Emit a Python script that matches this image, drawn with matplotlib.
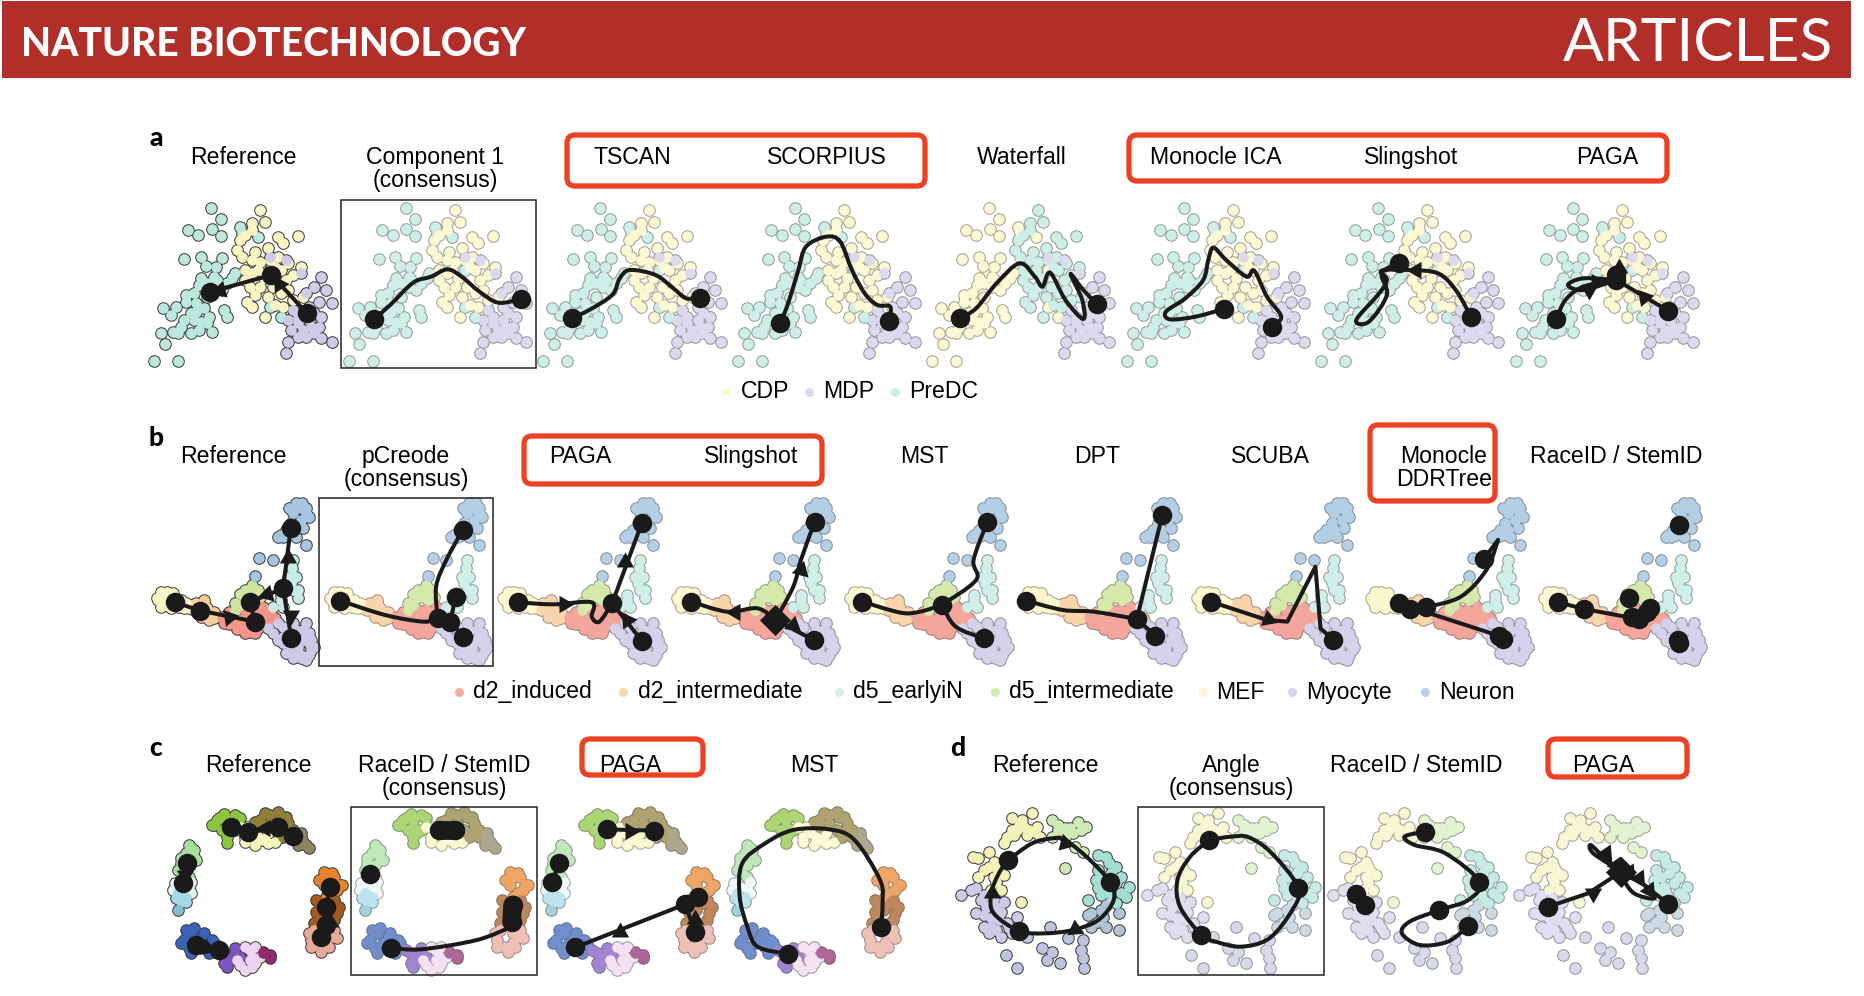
import numpy as np
import matplotlib
matplotlib.use('Agg')
import matplotlib.pyplot as plt
from matplotlib.path import Path
from matplotlib.patches import PathPatch, Rectangle, FancyBboxPatch

plt.rcParams['font.family'] = ['Liberation Sans', 'DejaVu Sans']

XS = 1.96
YS = 3.0
CROP_A = (130, 120)
CROP_B = (920, 120)
CROP_C = (130, 420)
CROP_D = (920, 420)
CROP_E = (130, 730)
CROP_F = (930, 730)

# --- dataset a cells (reference panel, crop A)
A_PREDC = [(48,722),(95,722),(68,672),(159,264),(178,297),(113,330),(134,344),(160,326),(178,347),(216,322),
           (106,417),(139,410),(148,438),(180,415),(168,440),(165,470),(140,475),(135,495),(110,525),(125,520),
           (110,545),(130,550),(65,565),(90,562),(80,585),(130,575),(125,600),(140,605),(160,635),(150,610),
           (185,570),(190,590),(100,620),(85,635),(60,640),(205,460),(190,490),(165,500),(150,530),(170,480),
           (120,640),(250,350),(220,340),(275,450),(295,590),(275,560),(120,580),(145,565),(105,600),(180,510),
           (150,490),(135,630),(95,640),(200,475),(155,590)]
A_CDP = [(255,270),(240,310),(265,305),(240,330),(225,345),(215,360),(210,390),(290,350),(300,370),(330,347),
         (270,385),(245,395),(220,410),(240,420),(255,425),(290,410),(310,430),(335,440),(225,450),(240,460),
         (295,450),(320,465),(235,500),(255,500),(245,525),(230,545),(240,560),(280,500),(295,520),(270,530),
         (285,555),(265,590),(300,560),(320,540),(340,530),(250,450),(262,475),(285,440),(305,480),(275,420),
         (225,480),(310,510)]
A_MDP = [(275,410),(305,420),(335,460),(375,470),(360,500),(345,520),(385,510),(395,550),(370,545),(350,560),
         (320,570),(330,590),(310,600),(375,590),(350,600),(315,630),(340,630),(370,620),(345,650),(375,655),
         (395,665),(310,665),(305,700),(360,640),(330,610),(355,620),(330,650),(360,580)]

# --- dataset b cells (reference panel, crop C)
B_MEF = [(55,540),(70,525),(85,530),(70,555),(95,560),(110,550),(60,545),(80,545),(115,565),(52,535),(60,515),
         (72,515),(85,520),(100,540),(60,560),(80,565),(105,565),(120,555)]
B_D2I = [(130,560),(145,550),(150,585),(140,575),(125,570),(165,595),(130,550),(145,540),(150,565),(165,575),
         (140,590),(155,600)]
B_D2 = [(190,590),(205,600),(185,610),(215,620),(235,635),(240,610),(225,590),(255,575),(265,590),(270,610),
        (250,625),(205,580),(240,570),(180,590),(195,575),(195,612),(215,600),(230,615),(210,628),(225,640),
        (245,640),(255,610),(240,590),(260,560),(275,575),(285,595),(270,625),(225,570),(250,595)]
B_D5I = [(215,555),(205,570),(225,510),(240,495),(250,510),(255,530),(235,530),(225,530),(205,548),(215,522),
         (235,512),(245,540)]
B_NEU = [(325,260),(335,265),(345,280),(320,280),(335,300),(315,310),(320,330),(300,350),(290,350),(310,345),
         (325,350),(345,375),(253,415),(280,420),(245,467),(312,265),(345,265),(325,250),(338,250),(350,290),
         (305,330),(295,345),(340,325)]
B_D5E = [(320,420),(318,445),(310,470),(325,470),(315,490),(320,510),(330,510),(330,535),(295,540),(280,560),
         (300,560),(295,525)]
B_MYO = [(270,625),(290,610),(300,620),(320,610),(340,630),(350,640),(300,650),(320,650),(340,660),(350,670),
         (330,680),(355,690),(300,670),(315,690),(335,705),(345,720),(335,715),(360,680),(345,650),(280,640),
         (290,660),(310,670),(330,700),(355,660),(345,610),(325,630),(305,700),(320,715),(350,705)]

# --- dataset c cells (reference panel, crop E)
C_GREEN = [(175,265),(190,270),(165,285),(190,290),(195,310),(190,340),(170,270),(185,252),(205,255),(160,285),
           (180,300),(205,300),(215,265),(190,320)]
C_PALE = [(215,290),(225,320),(245,345),(270,310),(250,320),(230,290),(240,310),(225,335),(260,330),(270,340),(285,335)]
C_OLIVE = [(255,270),(275,255),(295,260),(310,280),(320,300),(290,300),(300,320),(245,275),(265,250),(290,245),
           (305,260),(255,290),(275,280),(310,300),(320,320)]
C_TAUPE = [(335,320),(345,345),(330,345),(340,335),(350,355),(335,310)]
C_LGREEN = [(120,355),(110,370),(125,380),(100,400),(115,405),(105,430),(115,345),(125,360),(100,385),(130,390),
            (95,420),(115,440)]
C_WHITE = [(100,470),(115,475),(88,460),(120,455),(85,480),(120,490)]
C_SKY = [(95,490),(110,500),(100,515),(90,505),(110,515)]
C_TEAL = [(95,540)]
C_ORANGE = [(385,440),(400,440),(410,465),(380,465),(395,490),(380,425),(395,430),(415,465),(405,480),(370,450),(385,500)]
C_BROWN = [(370,515),(395,520),(380,540),(405,550),(370,560),(395,580),(365,510),(400,510),(375,530),(410,530),
           (365,545),(400,570),(360,580),(385,590)]
C_PINK = [(360,600),(385,610),(355,630),(370,650),(385,640),(400,620),(350,610),(355,650),(375,665),(400,600),
          (405,625),(390,650)]
C_BLUE = [(120,610),(105,630),(140,625),(115,655),(150,650),(165,640),(110,600),(125,595),(100,640),(130,640),
          (145,610),(160,630),(120,670),(155,670)]
C_PURPLE = [(185,670),(205,670),(185,700),(215,680),(175,660),(195,690),(205,655),(190,710)]
C_LPINK = [(235,660),(240,680),(215,705),(235,690),(225,720),(245,700),(225,650),(245,650),(210,690),(240,712),(255,680)]
C_MAGENTA = [(260,670),(275,675),(260,665),(275,685)]

# --- dataset d cells (reference panel, crop F)
D_YELLOW = [(160,265),(200,250),(180,270),(185,290),(165,315),(150,320),(145,340),(170,300),(195,300),(210,290),
            (215,320),(115,365),(125,395),(95,385),(85,380),(115,410),(130,410),(95,440),(145,435),(125,440),(178,517),
            (105,420),(135,425),(175,285),(190,315),(205,305),(160,300),(140,480),(120,480),(130,455)]
D_GREEN = [(240,270),(265,295),(290,275),(305,290),(280,310),(250,300),(240,320),(265,320),(285,350),(300,365),(265,415),
           (250,285),(275,295),(295,300),(265,305)]
D_TEAL = [(330,375),(350,400),(330,420),(365,410),(325,450),(345,470),(375,440),(390,470),(385,500),(355,510),
          (335,495),(310,510),(345,380),(355,430),(340,440),(365,460),(375,490),(330,475),(350,490),(365,520)]
D_SLATE = [(315,550),(335,540),(340,560),(370,550),(345,590),(370,600),(310,555),(315,590),(345,525),(330,575)]
D_BLUE = [(270,625),(300,630),(295,660),(220,655),(240,665),(230,690),(255,700),(300,685),(148,675),(170,713),
          (302,715),(190,620),(235,590)]
D_LAV = [(80,480),(60,495),(90,475),(105,495),(125,505),(145,515),(110,530),(130,530),(90,550),(120,565),(105,590),
         (140,620),(160,610),(130,600),(150,580),(170,560),(115,610),(100,510),(120,520),(140,545),(105,555),(135,570),
         (155,595),(120,590)]

# --- trajectories, crop units: curves, straight lines, nodes, arrows (x, y, heading deg ccw from up)
A1 = dict(crop=CROP_A, lines=[[(347,580),(277,465),(157,516)]], nodes=[(347,580),(277,465),(157,516)],
          arrows=[(292,492,32),(176,510,105)])
A2 = dict(crop=CROP_A, curves=[[(478,598),(510,555),(555,488),(590,470),(622,448),(650,470),(685,515),(722,548),(767,537)]],
          nodes=[(478,598),(767,537)])
A3 = dict(crop=CROP_A, curves=[[(866,594),(900,570),(945,525),(960,475),(980,450),(1030,465),(1065,505),(1090,535),(1117,533)]],
          nodes=[(866,594),(1117,533)])
A4 = dict(crop=CROP_A, curves=[[(1274,610),(1290,550),(1310,450),(1325,380),(1365,350),(1392,365),(1415,450),(1440,520),(1465,555),(1490,560),(1488,603)]],
          nodes=[(1274,610),(1488,603)])
A5 = dict(crop=CROP_B, curves=[[(78,595),(110,565),(150,490),(195,430),(225,470),(240,500),(255,458),(285,540),(320,597),(318,540),(295,462),(320,510),(347,552)]],
          nodes=[(78,595),(347,552)])
A6 = dict(crop=CROP_B, curves=[[(595,567),(540,590),(490,598),(482,575),(520,535),(555,480),(565,420),(575,383),(600,420),(640,470),(655,452),(680,530),(708,590),(690,620)]],
          nodes=[(595,567),(690,620)])
A7 = dict(crop=CROP_B, curves=[[(1080,590),(1050,510),(1015,460),(960,450),(905,452),(915,480),(900,520),(855,600),(880,605),(915,525),(905,460),(938,430)]],
          nodes=[(1080,590),(938,430)], arrows=[(972,450,90)])
A8 = dict(crop=CROP_B, curves=[[(1247,598),(1265,540),(1300,500),(1365,480)],[(1365,480),(1300,475),(1270,495),(1300,510),(1365,480)]],
          lines=[[(1365,480),(1467,573)]], nodes=[(1247,598),(1467,573),(1365,480),(1365,465)],
          arrows=[(1312,510,300),(1420,530,40),(1370,445,0),(1325,485,270)])

B1 = dict(crop=CROP_C, lines=[[(88,547),(138,572),(245,605)],[(245,605),(235,547),(300,505)],[(300,505),(315,325)],[(300,505),(316,653)]],
          nodes=[(88,547),(138,572),(245,605),(235,547),(300,505),(315,325),(316,653)],
          arrows=[(310,415,0),(315,585,180),(195,590,280),(268,522,105)])
B2 = dict(crop=CROP_C, curves=[[(412,542),(500,585),(575,605),(603,595)],[(603,595),(600,500),(620,420),(652,330)]],
          lines=[[(638,530),(628,605),(653,650)],[(603,595),(628,605)]],
          nodes=[(412,542),(603,595),(628,605),(653,650),(638,530),(652,330)])
B3 = dict(crop=CROP_C, curves=[[(760,547),(830,553),(905,547),(905,590),(920,605),(945,550)]],
          lines=[[(945,550),(1003,310)],[(945,550),(1003,662)]], nodes=[(760,547),(945,550),(1003,662),(1003,310)],
          arrows=[(850,553,270),(970,425,0),(975,600,155)])
B4 = dict(crop=CROP_C, curves=[[(1265,600),(1230,565),(1170,575),(1100,545)],[(1265,600),(1300,500),(1315,420),(1342,305)]],
          lines=[[(1265,600),(1340,660)]], nodes=[(1100,545),(1265,600),(1340,660),(1342,305)],
          arrows=[(1185,575,90),(1315,450,345),(1300,615,230)], diamonds=[(1265,600)])
B5 = dict(crop=CROP_D, curves=[[(-113,545),(-38,578),(0,575),(43,555)],[(43,555),(110,480),(105,420),(132,305)],[(43,555),(70,620),(125,655)]],
          nodes=[(-113,545),(43,555),(132,305),(125,655)])
B6 = dict(crop=CROP_D, curves=[[(208,542),(280,570),(340,575),(425,597)]], lines=[[(425,597),(475,285)],[(425,597),(461,647)]],
          nodes=[(208,542),(425,597),(461,647),(475,285)])
B7 = dict(crop=CROP_D, lines=[[(570,545),(680,600),(720,605),(775,440),(785,625),(810,660)]], nodes=[(570,545),(810,660)],
          arrows=[(682,596,250)])
B8 = dict(crop=CROP_D, lines=[[(938,550),(1130,645)]], curves=[[(992,562),(1060,530),(1110,450),(1133,360)]],
          extra=[[(1133,360),(1105,417)]], nodes=[(938,550),(960,567),(992,562),(1135,648),(1142,658),(1105,417)])
B9 = dict(crop=CROP_D, lines=[[(1251,547),(1302,567),(1400,595)]],
          nodes=[(1251,547),(1302,567),(1487,315),(1390,533),(1485,660),(1487,668),(1395,590),(1410,597),(1425,575),(1430,565)])

C1 = dict(crop=CROP_E, lines=[[(197,292),(232,307),(290,292),(320,318)],[(112,400),(103,460)],[(392,472),(385,530),(385,585),(374,622)],[(130,645),(175,660)]],
          nodes=[(197,292),(232,307),(290,292),(320,318),(112,400),(103,460),(392,472),(385,530),(385,585),(374,622),(130,645),(175,660)],
          arrows=[(265,295,90),(108,435,180),(392,575,0),(150,655,250)])
C2 = dict(crop=CROP_E, curves=[[(512,653),(570,658),(680,630),(748,590)]], bars=[[(605,300),(637,300)],[(750,525),(748,575)]],
          nodes=[(605,300),(637,300),(470,432),(750,525),(748,575),(512,653)])
C3 = dict(crop=CROP_E, lines=[[(935,298),(1027,302)],[(840,400),(828,457)],[(1113,500),(1088,523),(873,652)],[(1088,523),(1107,605)]],
          nodes=[(935,298),(1027,302),(840,400),(828,457),(1113,500),(1088,523),(1107,605),(873,652)],
          arrows=[(980,302,270),(960,605,120),(1107,568,0)])
C4 = dict(crop=CROP_E, curves=[[(1290,672),(1230,650),(1210,590),(1195,500),(1200,400),(1245,340),(1300,300),(1370,298),(1420,330),(1470,450),(1475,520),(1472,590)]],
          nodes=[(1290,672),(1472,590)])

D1 = dict(crop=CROP_F, curves=[[(153,390),(200,340),(240,325),(265,330),(310,385),(352,455),(360,510),(330,570),(280,600),(225,610),(175,603),(125,550),(120,490),(135,430),(153,390)]],
          nodes=[(153,390),(352,455),(175,603)], arrows=[(265,338,15),(122,490,0),(285,597,125)])
D2 = dict(crop=CROP_F, curves=[[(547,330),(590,320),(625,322),(670,370),(722,473),(710,540),(665,625),(610,650),(560,635),(532,615),(490,530),(485,450),(510,380),(547,330)]],
          nodes=[(547,330),(722,473),(532,615)])
D3 = dict(crop=CROP_F, curves=[[(970,305),(930,320),(950,345),(1010,370),(1077,455),(1055,510),(997,541),(940,575),(925,610),(960,645),(1015,635),(1055,588)]],
          nodes=[(970,305),(1077,455),(997,541),(1055,588),(835,492),(852,525)])
D4 = dict(crop=CROP_F, curves=[[(1355,425),(1300,370),(1295,345),(1320,380),(1355,425)],[(1355,440),(1380,490),(1420,505),(1400,465),(1355,425)]],
          lines=[[(1212,530),(1290,490),(1355,425),(1400,465),(1447,522)]], nodes=[(1212,530),(1447,522)],
          arrows=[(1300,488,300),(1325,370,215),(1345,405,215),(1370,425,215),(1390,445,215),(1410,480,215),(1355,425,0)],
          diamonds=[(1355,425)])

# --- colours of the groups
A_COL = {'CDP': '#FAF5C2', 'MDP': '#CFCBE8', 'PreDC': '#BDE8DE'}
B_COL = {'d2_induced': '#F2968C', 'd2_intermediate': '#F9CC9C', 'd5_earlyiN': '#C8ECE5', 'd5_intermediate': '#CDE59C',
         'MEF': '#FBF6C6', 'Myocyte': '#CDCAE8', 'Neuron': '#A5C5E0'}
C_COL = ['#8CC63F', '#F6F6C0', '#8F7F3A', '#8E8464', '#A8DFA0', '#EAF6F6', '#A5D8E8', '#7FBFCF', '#E8842A', '#A5591F',
         '#E8A89A', '#3A62B8', '#7D55C0', '#F0D5F0', '#8E2A6E']
D_COL = ['#F4F2B8', '#CFEBB5', '#A5DFD4', '#AFC4D4', '#C0C3E0', '#CDCBE8']

# --- text
HEADER_LEFT = 'NATURE BIOTECHNOLOGY'
HEADER_RIGHT = 'ARTICLES'
TITLES = [('Reference', 243.8, 157), ('Component 1\n(consensus)', 435, 169), ('TSCAN', 632, 157), ('SCORPIUS', 827, 157),
          ('Waterfall', 1022, 157), ('Monocle ICA', 1216, 157), ('Slingshot', 1411, 157), ('PAGA', 1607, 157),
          ('Reference', 233, 456), ('pCreode\n(consensus)', 406, 468), ('PAGA', 580, 456), ('Slingshot', 751, 456),
          ('MST', 924, 456), ('DPT', 1097, 456), ('SCUBA', 1270, 456), ('Monocle\nDDRTree', 1444, 468),
          ('RaceID / StemID', 1616, 456),
          ('Reference', 258, 765), ('RaceID / StemID\n(consensus)', 444, 777), ('PAGA', 630, 765), ('MST', 814, 765),
          ('Reference', 1045, 765), ('Angle\n(consensus)', 1231, 777), ('RaceID / StemID', 1416, 765), ('PAGA', 1603, 765)]
LETTERS = [('a', 156, 138), ('b', 156, 438), ('c', 156, 748), ('d', 958, 748)]


def mix(col, f):
    return tuple(1 - f * (1 - c) for c in matplotlib.colors.to_rgb(col))


def dark(col, f):
    return tuple(c * f for c in matplotlib.colors.to_rgb(col))


def px(pts, crop, shift=0.0):
    arr = np.array(pts, dtype=float)
    return crop[0] + (arr[:, 0] + shift) / XS, crop[1] + arr[:, 1] / YS


def d2s(d):
    # marker diameter in pixels to scatter area at dpi 100
    return (d * 0.72) ** 2


def smooth(x, y):
    # catmull-rom control points turned into a bezier path
    pts = np.column_stack([x, y])
    verts = [pts[0]]
    codes = [Path.MOVETO]
    for i in range(len(pts) - 1):
        p0 = pts[max(i - 1, 0)]
        p1 = pts[i]
        p2 = pts[i + 1]
        p3 = pts[min(i + 2, len(pts) - 1)]
        verts += [p1 + (p2 - p0) / 6, p2 - (p3 - p1) / 6, p2]
        codes += [Path.CURVE4] * 3
    return Path(verts, codes)


def draw_cells(groups, crop, shift, strong, zbase):
    for pts, col in groups:
        x, y = px(pts, crop, shift)
        edge = '#3a3a3a' if strong else mix(dark(col, 0.55), 0.8)
        ax.scatter(x, y, s=d2s(12.6), color=edge, linewidths=0, zorder=zbase)
    for pts, col in groups:
        x, y = px(pts, crop, shift)
        ax.scatter(x, y, s=d2s(10.6), color=col, linewidths=0, zorder=zbase + 1)


def draw_traj(t):
    crop = t['crop']
    ink = '#1a1a1a'
    for c in t.get('curves', []):
        x, y = px(c, crop)
        ax.add_patch(PathPatch(smooth(x, y), fc='none', ec=ink, lw=2.9, capstyle='round', joinstyle='round', zorder=5))
    for c in t.get('lines', []) + t.get('extra', []):
        x, y = px(c, crop)
        ax.plot(x, y, color=ink, lw=2.9, solid_capstyle='round', zorder=5)
    for c in t.get('bars', []):
        x, y = px(c, crop)
        ax.plot(x, y, color=ink, lw=13.5, solid_capstyle='round', zorder=5)
    for a in t.get('arrows', []):
        x, y = px([a[:2]], crop)
        ax.scatter(x, y, marker=(3, 0, a[2]), s=d2s(20), color=ink, linewidths=0, zorder=6)
    for d in t.get('diamonds', []):
        x, y = px([d], crop)
        ax.scatter(x, y, marker='D', s=d2s(22), color=ink, linewidths=0, zorder=6)
    x, y = px(t['nodes'], crop)
    ax.scatter(x, y, s=d2s(19.5), color=ink, linewidths=0, zorder=7)


fig = plt.figure(figsize=(18.64, 9.96), dpi=100)
ax = fig.add_axes([0, 0, 1, 1])
ax.set_xlim(0, 1864)
ax.set_ylim(996, 0)
ax.axis('off')

# header
ax.add_patch(Rectangle((2, 1), 1849, 77, fc='#B22E28', ec='none', zorder=1))
ax.text(21, 44, HEADER_LEFT, color='white', family='Lato', weight='black', fontsize=28, va='center', ha='left', zorder=2)
ax.text(1833, 44, HEADER_RIGHT, color='white', family='Lato', fontsize=43.5, va='center', ha='right', zorder=2)

# row a
a_base = [(A_PREDC, A_COL['PreDC']), (A_CDP, A_COL['CDP']), (A_MDP, A_COL['MDP'])]
a_pale = [(A_PREDC, mix(A_COL['PreDC'], 0.72)), (A_CDP, mix(A_COL['CDP'], 0.72)), (A_MDP, mix(A_COL['MDP'], 0.72))]
a_swap = [(A_PREDC, mix(A_COL['CDP'], 0.72)), (A_CDP, mix(A_COL['PreDC'], 0.72)), (A_MDP, mix(A_COL['MDP'], 0.72))]
for i, t in enumerate([A1, A2, A3, A4, A5, A6, A7, A8]):
    cells = a_base if i == 0 else (a_swap if i == 4 else a_pale)
    draw_cells(cells, CROP_A, i * 381.2, i == 0, 3)
    draw_traj(t)

# row b
b_keys = [(B_MEF, 'MEF'), (B_D2I, 'd2_intermediate'), (B_D2, 'd2_induced'), (B_D5I, 'd5_intermediate'),
          (B_NEU, 'Neuron'), (B_D5E, 'd5_earlyiN'), (B_MYO, 'Myocyte')]
for i, t in enumerate([B1, B2, B3, B4, B5, B6, B7, B8, B9]):
    f = 1.0 if i == 0 else 0.85
    cells = [(p, mix(B_COL[k], f)) for p, k in b_keys]
    draw_cells(cells, CROP_C, i * 340, i == 0, 3)
    draw_traj(t)

# row c
c_sets = [C_GREEN, C_PALE, C_OLIVE, C_TAUPE, C_LGREEN, C_WHITE, C_SKY, C_TEAL, C_ORANGE, C_BROWN, C_PINK, C_BLUE,
          C_PURPLE, C_LPINK, C_MAGENTA]
for i, t in enumerate([C1, C2, C3, C4]):
    f = 1.0 if i == 0 else 0.72
    cells = [(p, mix(c, f)) for p, c in zip(c_sets, C_COL)]
    draw_cells(cells, CROP_E, i * 365, i == 0, 3)
    draw_traj(t)

# row d
d_sets = [D_YELLOW, D_GREEN, D_TEAL, D_SLATE, D_BLUE, D_LAV]
for i, t in enumerate([D1, D2, D3, D4]):
    f = 1.0 if i == 0 else 0.62
    cells = [(p, mix(c, f)) for p, c in zip(d_sets, D_COL)]
    draw_cells(cells, CROP_F, i * 364.5, i == 0, 3)
    draw_traj(t)

# consensus frames
for x0, y0, x1, y1 in [(341, 200, 536, 368), (319, 498, 493, 666), (351, 807, 537, 975), (1138, 807, 1324, 975)]:
    ax.add_patch(Rectangle((x0, y0), x1 - x0, y1 - y0, fc='none', ec='#222222', lw=1.1, zorder=8))

# red boxes
for x0, y0, x1, y1 in [(565, 133, 927, 188), (1127, 133, 1669, 183), (522, 434, 824, 486), (1368, 423, 1497, 503),
                       (580, 737, 705, 777), (1546, 737, 1689, 779)]:
    ax.add_patch(FancyBboxPatch((x0 + 2, y0 + 2), x1 - x0 - 4, y1 - y0 - 4, boxstyle='round,pad=0,rounding_size=8',
                                fc='none', ec='#EE4023', lw=3.8, zorder=8))

for s, x, y in TITLES:
    ax.text(x, y, s, fontsize=16.6, color='black', ha='center', va='center', linespacing=1.0, zorder=9)
for s, x, y in LETTERS:
    ax.text(x, y, s, family='Lato', weight='black', fontsize=19, color='black', ha='center', va='center', zorder=9)

# legends
LEG_A = [('CDP', 1168, 1197), ('MDP', 1330, 1358), ('PreDC', 1500, 1528)]
for s, dx, tx in LEG_A:
    x, y = px([(dx, 815)], CROP_A)
    ax.scatter(x, y, s=d2s(9), color=mix(A_COL[s], 0.72), linewidths=0, zorder=9)
    x, y = px([(tx, 813)], CROP_A)
    ax.text(x[0], y[0], s, fontsize=16.6, ha='left', va='center', zorder=9)
LEG_B = [('d2_induced', 645, 672, 813, CROP_C), ('d2_intermediate', 967, 996, 813, CROP_C), ('d5_earlyiN', 1390, 1417, 813, CROP_C),
         ('d5_intermediate', 147, 175, 813, CROP_D), ('MEF', 555, 581, 816, CROP_D), ('Myocyte', 729, 757, 818, CROP_D),
         ('Neuron', 990, 1017, 818, CROP_D)]
for s, dx, tx, ty, crop in LEG_B:
    x, y = px([(dx, 815)], crop)
    ax.scatter(x, y, s=d2s(9), color=mix(B_COL[s], 0.8), linewidths=0, zorder=9)
    x, y = px([(tx, ty)], crop)
    ax.text(x[0], y[0], s, fontsize=16.6, ha='left', va='center', zorder=9)

fig.savefig('out.png', dpi=100)
